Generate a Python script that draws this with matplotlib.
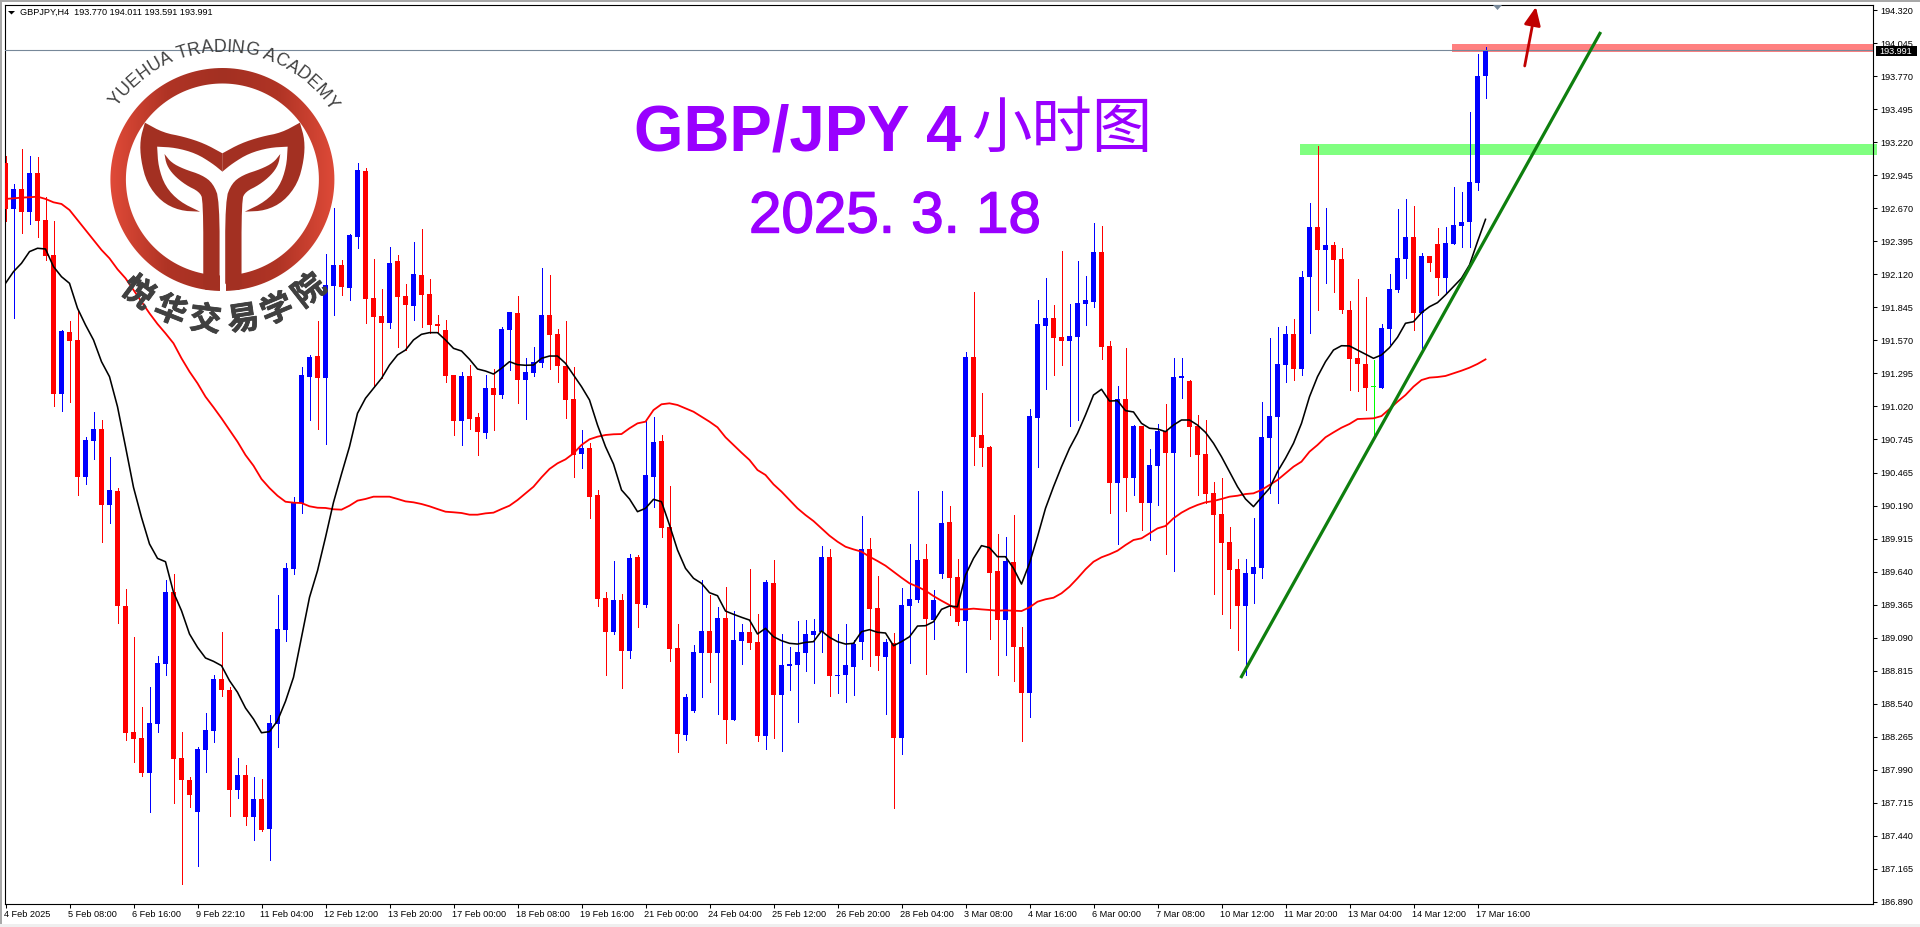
import numpy as np
import matplotlib
matplotlib.use("Agg")
import matplotlib.pyplot as plt
import matplotlib.patheffects as pe
from matplotlib.colors import LinearSegmentedColormap
from matplotlib.font_manager import FontProperties
from matplotlib.patches import PathPatch, Polygon, Rectangle
from matplotlib.path import Path
from matplotlib.textpath import text_to_path
from matplotlib.transforms import ScaledTranslation

# GBP/JPY H4 bars, oldest first
highs = [
    193.106, 192.870, 193.162, 193.106, 193.098, 192.767, 192.564, 191.656, 191.731, 191.823,
    190.762, 190.970, 190.906, 190.600, 190.339, 189.498, 189.098, 188.514, 188.681, 188.939,
    189.573, 189.623, 188.306, 187.931, 188.181, 188.464, 188.781, 189.139, 188.678, 188.089,
    188.031, 187.931, 187.914, 188.448, 189.448, 189.714, 190.262, 191.350, 191.448, 191.731,
    192.289, 192.673, 192.239, 192.456, 193.048, 193.006, 192.245, 191.998, 192.348, 192.281,
    192.039, 192.389, 192.498, 192.081, 191.781, 191.739, 191.281, 191.306, 191.364, 190.962,
    191.281, 191.331, 191.684, 191.806, 191.939, 191.420, 191.514, 192.173, 192.114, 191.664,
    191.731, 191.350, 190.823, 190.712, 190.323, 189.473, 189.731, 189.456, 189.789, 189.781,
    190.906, 190.928, 190.781, 190.356, 189.206, 188.623, 189.031, 189.573, 189.448, 189.350,
    189.517, 189.314, 189.206, 189.664, 189.287, 189.573, 189.739, 189.123, 189.012, 189.234,
    189.239, 189.245, 189.856, 189.828, 189.123, 189.206, 189.073, 190.106, 189.923, 189.606,
    189.078, 189.128, 189.506, 189.873, 190.314, 189.873, 189.489, 190.314, 190.189, 189.748,
    191.473, 191.973, 191.131, 190.689, 189.956, 189.931, 190.114, 189.181, 190.998, 191.906,
    192.089, 191.864, 192.314, 191.873, 192.231, 192.106, 192.548, 192.523, 191.564, 191.189,
    191.506, 190.864, 190.856, 190.664, 190.873, 191.039, 191.423, 191.423, 191.239, 190.948,
    190.906, 190.389, 190.423, 190.014, 189.748, 189.748, 190.092, 191.056, 191.589, 191.681,
    191.689, 191.748, 192.148, 192.714, 193.192, 192.673, 192.389, 192.339, 191.898, 192.081,
    191.934, 191.406, 191.706, 192.123, 192.664, 192.748, 192.689, 192.298, 192.273, 192.506,
    192.514, 192.848, 192.806, 193.473, 193.956, 194.011,
]
opens = [
    193.045, 192.664, 192.831, 192.639, 192.964, 192.573, 192.281, 191.123, 191.639, 191.573,
    190.434, 190.731, 190.831, 190.200, 190.312, 189.356, 188.306, 188.256, 187.964, 188.373,
    188.873, 189.473, 188.089, 187.906, 187.639, 188.156, 188.314, 188.748, 188.656, 187.823,
    187.948, 187.598, 187.748, 187.498, 188.373, 189.156, 189.664, 190.212, 191.264, 191.439,
    191.256, 192.023, 192.198, 192.006, 192.431, 192.981, 191.923, 191.773, 191.714, 192.231,
    191.939, 191.856, 192.114, 191.956, 191.706, 191.656, 191.281, 190.898, 191.273, 190.931,
    190.798, 191.173, 191.114, 191.656, 191.798, 191.239, 191.298, 191.381, 191.781, 191.623,
    191.356, 191.081, 190.623, 190.670, 190.281, 189.423, 189.139, 189.406, 188.981, 189.764,
    189.364, 190.431, 190.731, 190.014, 189.006, 188.281, 188.481, 188.967, 189.148, 188.967,
    189.256, 188.406, 189.064, 189.139, 189.056, 188.273, 189.548, 188.614, 188.856, 188.864,
    188.964, 189.114, 189.139, 189.764, 188.773, 188.781, 188.848, 189.056, 189.831, 189.339,
    188.931, 189.048, 188.259, 189.356, 189.406, 189.748, 189.239, 189.623, 190.056, 189.598,
    189.231, 191.431, 190.781, 190.681, 189.648, 189.239, 189.723, 189.014, 188.631, 190.923,
    191.689, 191.756, 191.598, 191.564, 191.598, 191.873, 191.889, 192.306, 191.523, 190.381,
    191.081, 190.423, 190.856, 190.214, 190.523, 190.814, 190.631, 191.256, 191.231, 190.856,
    190.623, 190.298, 190.123, 189.889, 189.664, 189.356, 189.623, 189.673, 190.756, 190.931,
    191.364, 191.623, 191.331, 192.098, 192.514, 192.323, 192.364, 192.248, 191.823, 191.423,
    191.373, 191.178, 191.173, 191.664, 191.989, 192.248, 192.431, 191.798, 192.273, 192.373,
    192.089, 192.373, 192.523, 192.556, 192.881, 193.770,
]
closes = [
    192.664, 192.831, 192.639, 192.964, 192.567, 192.275, 191.123, 191.648, 191.564, 190.434,
    190.739, 190.831, 190.200, 190.323, 189.359, 188.300, 188.250, 187.964, 188.381, 188.881,
    189.473, 188.081, 187.906, 187.781, 188.164, 188.323, 188.748, 188.656, 187.823, 187.948,
    187.598, 187.748, 187.489, 188.381, 189.164, 189.673, 190.212, 191.281, 191.431, 191.256,
    192.031, 192.198, 192.014, 192.448, 192.989, 191.914, 191.764, 191.714, 192.214, 191.931,
    191.864, 192.123, 191.948, 191.698, 191.689, 191.273, 190.898, 191.273, 190.914, 190.806,
    191.173, 191.114, 191.664, 191.806, 191.239, 191.306, 191.389, 191.781, 191.614, 191.356,
    191.073, 190.614, 190.670, 190.267, 189.417, 189.139, 189.406, 188.981, 189.756, 189.373,
    190.448, 190.723, 190.006, 188.998, 188.289, 188.598, 188.973, 189.148, 188.967, 189.256,
    188.406, 189.073, 189.139, 189.048, 188.273, 189.556, 188.614, 188.864, 188.873, 188.973,
    189.123, 189.148, 189.764, 188.773, 188.781, 188.864, 189.039, 189.831, 189.331, 188.939,
    189.056, 188.259, 189.364, 189.414, 189.739, 189.248, 189.406, 190.048, 189.589, 189.223,
    191.431, 190.764, 190.673, 189.631, 189.239, 189.731, 189.014, 188.631, 190.939, 191.706,
    191.756, 191.589, 191.564, 191.606, 191.881, 191.906, 192.306, 191.514, 190.381, 191.081,
    190.423, 190.856, 190.214, 190.531, 190.814, 190.631, 191.264, 191.273, 190.848, 190.614,
    190.289, 190.114, 189.881, 189.656, 189.356, 189.631, 189.681, 190.764, 190.939, 191.373,
    191.623, 191.331, 192.098, 192.514, 192.323, 192.364, 192.239, 191.823, 191.414, 191.373,
    191.173, 191.178, 191.673, 191.998, 192.256, 192.431, 191.798, 192.273, 192.214, 192.089,
    192.381, 192.531, 192.556, 192.889, 193.773, 193.991,
]
lows = [
    192.567, 191.759, 192.462, 192.542, 192.434, 192.239, 191.025, 190.984, 191.059, 190.281,
    190.373, 190.578, 189.889, 190.048, 189.214, 188.239, 188.059, 187.942, 187.642, 188.309,
    188.784, 187.714, 187.039, 187.684, 187.192, 187.973, 188.223, 188.606, 187.609, 187.756,
    187.531, 187.406, 187.481, 187.239, 188.181, 189.064, 189.623, 190.131, 190.906, 190.831,
    190.706, 191.781, 191.948, 191.906, 192.339, 191.714, 191.184, 191.253, 191.673, 191.514,
    191.489, 191.739, 191.681, 191.628, 191.628, 191.223, 190.781, 190.698, 190.831, 190.614,
    190.756, 190.823, 191.089, 191.323, 191.048, 190.914, 191.273, 191.348, 191.331, 191.223,
    190.923, 190.434, 190.506, 190.092, 189.356, 188.781, 189.123, 188.673, 188.923, 189.181,
    189.345, 190.184, 189.934, 188.898, 188.139, 188.239, 188.473, 188.598, 188.723, 188.456,
    188.214, 188.406, 188.873, 188.998, 188.231, 188.164, 188.256, 188.148, 188.656, 188.389,
    188.814, 188.714, 188.973, 188.606, 188.631, 188.556, 188.614, 188.914, 188.856, 188.823,
    188.456, 187.673, 188.123, 188.878, 189.392, 188.789, 189.081, 189.589, 189.281, 189.198,
    188.806, 190.531, 190.523, 189.081, 188.781, 188.948, 188.731, 188.231, 188.431, 190.514,
    191.164, 191.281, 191.364, 190.856, 190.906, 191.698, 191.848, 191.414, 190.131, 189.873,
    190.148, 190.281, 189.989, 189.906, 190.198, 189.789, 189.648, 191.089, 190.606, 190.281,
    190.214, 189.456, 189.289, 189.173, 188.989, 188.784, 189.381, 189.589, 190.298, 190.214,
    191.223, 191.239, 191.281, 191.631, 191.823, 192.048, 191.973, 191.798, 191.156, 191.148,
    190.989, 190.767, 191.173, 191.539, 191.973, 192.089, 191.656, 191.489, 192.148, 191.948,
    191.973, 192.373, 192.348, 192.348, 192.823, 193.591,
]
fast_ma = [
    192.045, 192.142, 192.212, 192.309, 192.337, 192.331, 192.184, 192.100, 192.045, 191.837,
    191.698, 191.573, 191.392, 191.267, 191.017, 190.684, 190.345, 190.095, 189.873, 189.753,
    189.725, 189.470, 189.317, 189.123, 189.012, 188.923, 188.895, 188.859, 188.734, 188.637,
    188.506, 188.414, 188.300, 188.309, 188.400, 188.562, 188.762, 189.095, 189.428, 189.650,
    189.928, 190.220, 190.456, 190.684, 190.962, 191.087, 191.170, 191.253, 191.364, 191.448,
    191.489, 191.573, 191.620, 191.634, 191.634, 191.573, 191.503, 191.481, 191.412, 191.331,
    191.314, 191.289, 191.337, 191.392, 191.367, 191.362, 191.364, 191.420, 191.439, 191.439,
    191.378, 191.281, 191.184, 191.073, 190.864, 190.684, 190.539, 190.323, 190.248, 190.142,
    190.170, 190.245, 190.225, 190.031, 189.823, 189.670, 189.587, 189.545, 189.467, 189.442,
    189.314, 189.287, 189.262, 189.239, 189.123, 189.170, 189.100, 189.067, 189.045, 189.039,
    189.053, 189.059, 189.148, 189.095, 189.059, 189.039, 189.045, 189.142, 189.159, 189.137,
    189.131, 189.025, 189.059, 189.100, 189.189, 189.192, 189.225, 189.328, 189.356, 189.350,
    189.614, 189.753, 189.859, 189.842, 189.767, 189.767, 189.670, 189.539, 189.712, 189.934,
    190.170, 190.350, 190.517, 190.670, 190.795, 190.948, 191.114, 191.162, 191.064, 191.067,
    190.984, 190.973, 190.878, 190.837, 190.831, 190.809, 190.864, 190.906, 190.906, 190.864,
    190.803, 190.712, 190.600, 190.475, 190.350, 190.248, 190.184, 190.262, 190.337, 190.475,
    190.587, 190.712, 190.878, 191.100, 191.267, 191.392, 191.489, 191.525, 191.523, 191.489,
    191.456, 191.420, 191.448, 191.509, 191.595, 191.712, 191.725, 191.800, 191.850, 191.884,
    191.948, 192.017, 192.087, 192.198, 192.392, 192.578,
]
slow_ma = [
    192.748, 192.753, 192.759, 192.762, 192.767, 192.748, 192.720, 192.706, 192.656, 192.573,
    192.489, 192.406, 192.323, 192.253, 192.162, 192.087, 191.989, 191.892, 191.795, 191.706,
    191.628, 191.545, 191.420, 191.309, 191.212, 191.100, 191.012, 190.920, 190.823, 190.725,
    190.614, 190.525, 190.414, 190.339, 190.275, 190.225, 190.217, 190.214, 190.187, 190.175,
    190.173, 190.162, 190.159, 190.192, 190.234, 190.248, 190.267, 190.267, 190.267, 190.248,
    190.228, 190.220, 190.206, 190.187, 190.164, 190.142, 190.137, 190.131, 190.117, 190.117,
    190.128, 190.134, 190.164, 190.192, 190.239, 190.295, 190.350, 190.428, 190.498, 190.545,
    190.578, 190.628, 190.698, 190.745, 190.767, 190.781, 190.787, 190.789, 190.837, 190.878,
    190.892, 190.989, 191.037, 191.045, 191.031, 191.003, 190.975, 190.934, 190.892, 190.845,
    190.762, 190.698, 190.634, 190.573, 190.489, 190.448, 190.370, 190.309, 190.239, 190.170,
    190.114, 190.064, 190.003, 189.942, 189.892, 189.850, 189.828, 189.809, 189.767, 189.731,
    189.692, 189.642, 189.592, 189.545, 189.517, 189.484, 189.439, 189.400, 189.364, 189.328,
    189.328, 189.334, 189.328, 189.323, 189.317, 189.320, 189.317, 189.314, 189.345, 189.392,
    189.412, 189.425, 189.462, 189.517, 189.587, 189.662, 189.725, 189.762, 189.787, 189.817,
    189.864, 189.906, 189.920, 189.962, 190.003, 190.023, 190.087, 190.134, 190.170, 190.198,
    190.220, 190.231, 190.248, 190.267, 190.275, 190.289, 190.295, 190.323, 190.364, 190.406,
    190.462, 190.517, 190.559, 190.642, 190.698, 190.762, 190.803, 190.842, 190.873, 190.914,
    190.917, 190.920, 190.939, 190.998, 191.059, 191.114, 191.184, 191.239, 191.259, 191.264,
    191.273, 191.295, 191.317, 191.342, 191.373, 191.411,
]

price_ticks = [
    194.320, 194.045, 193.770, 193.495, 193.220, 192.945, 192.670, 192.395, 192.120,
    191.845, 191.570, 191.295, 191.020, 190.745, 190.465, 190.190, 189.915, 189.640,
    189.365, 189.090, 188.815, 188.540, 188.265, 187.990, 187.715, 187.440, 187.165, 186.890,
]
time_labels = [
    "4 Feb 2025", "5 Feb 08:00", "6 Feb 16:00", "9 Feb 22:10", "11 Feb 04:00", "12 Feb 12:00",
    "13 Feb 20:00", "17 Feb 00:00", "18 Feb 08:00", "19 Feb 16:00", "21 Feb 00:00", "24 Feb 04:00",
    "25 Feb 12:00", "26 Feb 20:00", "28 Feb 04:00", "3 Mar 08:00", "4 Mar 16:00", "6 Mar 00:00",
    "7 Mar 08:00", "10 Mar 12:00", "11 Mar 20:00", "13 Mar 04:00", "14 Mar 12:00", "17 Mar 16:00",
]
bars_per_label = 8
last_price = 193.991
resistance_band = (193.973, 194.039)
breakout_band = (193.114, 193.206)
trend_start = (154.4, 188.756)
trend_end = (199.4, 194.139)
arrow_start = (189.9, 193.856)
arrow_end = (191.3, 194.348)

LABEL_FONT = "Liberation Sans"
PURPLE = "#9900FF"
LOGO_RED = "#A33022"
LOGO_GREY = "#404040"

fig = plt.figure(figsize=(19.2, 9.27), dpi=100, facecolor="white")
ax = fig.add_axes([4.5 / 1920, 23 / 927, 1868.5 / 1920, 899 / 927])
# one bar is exactly 8 px wide, so bodies land on whole pixels
x_left, x_right = -0.125, 233.4375
ax.set_xlim(x_left, x_right)
ax.set_ylim(186.873, 194.364)

x = np.arange(len(closes))
o = np.array(opens)
c = np.array(closes)
colors = np.where(c > o, "#0000FF", np.where(c < o, "#FF0000", "#00FF00"))

# bands sit behind the candles
span = x_right - x_left
ax.axhspan(*resistance_band, xmin=(180.75 - x_left) / span, xmax=1, color="#FF8080", lw=0, zorder=1)
ax.axhspan(*breakout_band, xmin=(161.75 - x_left) / span, xmax=1.002, color="#80FF80", lw=0, zorder=1,
           clip_on=False)

ax.vlines(x, lows, highs, colors=colors, lw=0.7, zorder=2, antialiased=False)
ax.bar(x, np.maximum(np.abs(c - o), 0.009), bottom=np.minimum(o, c), width=0.625, color=colors,
       lw=0, zorder=3, antialiased=False)

ax.plot(x, slow_ma, color="#FF0000", lw=1.3, zorder=4)
ax.plot(x, fast_ma, color="black", lw=1.15, zorder=4)
ax.axhline(last_price, color="#778899", lw=0.8, zorder=4)

ax.plot([trend_start[0], trend_end[0]], [trend_start[1], trend_end[1]], color="#0E7F0E", lw=2.3,
        zorder=5, solid_capstyle="butt")
ax.annotate("", xy=arrow_end, xytext=arrow_start, zorder=6,
            arrowprops=dict(arrowstyle="-|>,head_length=1.1,head_width=0.5", mutation_scale=10,
                            color="#C00000", lw=2, shrinkA=0, shrinkB=0))

ax.yaxis.tick_right()
ax.set_yticks(price_ticks)
ax.set_yticklabels([f"{p:.3f}" for p in price_ticks])
ax.set_xticks(x[::bars_per_label])
ax.set_xticklabels(time_labels, ha="left")
ax.tick_params(axis="both", length=3, width=0.75, labelsize=6.6, pad=2, colors="black")
ax.tick_params(axis="x", pad=1.5)
for label in ax.get_xticklabels() + ax.get_yticklabels():
    label.set_fontfamily(LABEL_FONT)
# time labels start about a pixel left of their tick
label_shift = ScaledTranslation(-1.2 / 100, 0, fig.dpi_scale_trans)
for label in ax.get_xticklabels():
    label.set_transform(label.get_transform() + label_shift)
for spine in ax.spines.values():
    spine.set_linewidth(0.8)
    spine.set_color("black")

# everything else is placed in image pixels on a transparent layer
ov = fig.add_axes([0, 0, 1, 1], zorder=5)
ov.patch.set_alpha(0)
ov.axis("off")

# window chrome
ov.add_patch(Rectangle((0, 0), 1920, 2, color="#A8A8A8", lw=0))
ov.add_patch(Rectangle((0, 0), 2, 927, color="#A8A8A8", lw=0))
ov.add_patch(Rectangle((0, 924), 1920, 3, color="#EFEFEF", lw=0))

ov.add_patch(Polygon([(8, 11), (15, 11), (11.5, 14.5)], color="black", lw=0))
ov.text(20, 12.5, "GBPJPY,H4  193.770 194.011 193.591 193.991", family=LABEL_FONT, fontsize=6.6, va="center")
ov.add_patch(Polygon([(1493, 5), (1502, 5), (1497.5, 10)], color="#778899", lw=0))

ov.add_patch(Rectangle((1875.5, 46), 41, 10, color="black", lw=0))
ov.text(1896, 51, f"{last_price:.3f}", family=LABEL_FONT, fontsize=6.6, color="white", ha="center", va="center")

# title
ov.text(634, 150, "GBP/JPY 4", family=LABEL_FONT, weight="bold", fontsize=45.8, color=PURPLE,
        va="baseline", ha="left")
ov.text(971, 130, "小时图", family="Noto Sans CJK SC", fontsize=43.5, color=PURPLE, va="center", ha="left")
ov.text(749, 232.5, "2025. 3. 18", family=LABEL_FONT, fontsize=42, color=PURPLE, va="baseline", ha="left",
        path_effects=[pe.withStroke(linewidth=1.0, foreground=PURPLE)])

# logo, traced in image pixels around its centre
cx, cy = 222.4, 179.5


def ellipse_points(rx, ry):
    t = np.linspace(0, 2 * np.pi, 181)
    return np.c_[cx + rx * np.cos(t), cy + ry * np.sin(t)]


def smooth_outline(points, rounds=2):
    # corner cutting; a vertex listed twice stays sharp
    pts = np.asarray(points, dtype=float)
    for _ in range(rounds):
        nxt = np.roll(pts, -1, axis=0)
        pts = np.c_[0.75 * pts + 0.25 * nxt, 0.25 * pts + 0.75 * nxt].reshape(-1, 2)
    return pts


outer = ellipse_points(112, 111.5)
inner = ellipse_points(96.5, 96)[::-1]
codes = [Path.MOVETO] + [Path.LINETO] * 180
ring = PathPatch(Path(np.r_[outer, inner], codes + codes), fc="none", ec="none")
ov.add_patch(ring)
ring_cmap = LinearSegmentedColormap.from_list("ring", ["#E04A38", "#B03425", LOGO_RED, "#B03425", "#DE4A38"])
img = ov.imshow(np.linspace(0, 1, 256)[None, :], extent=(110, 335, 292, 67), cmap=ring_cmap, aspect="auto")
img.set_clip_path(ring)
ov.add_patch(Rectangle((219.6, 255), 6.1, 40, color="white", lw=0))

crown = [(355, 368), (355, 368), (400, 398), (450, 410), (500, 430), (545, 460), (545, 460), (545, 515),
         (545, 515), (520, 490), (480, 460), (430, 443), (385, 440), (385, 440), (388, 500), (405, 560),
         (440, 605), (490, 635), (490, 635), (440, 632), (395, 605), (360, 550), (345, 480), (343, 420)]
stem = [(403, 462), (403, 462), (420, 488), (450, 507), (495, 525), (522, 550), (538, 600), (538, 850),
        (538, 850), (530, 862), (505, 873), (498, 860), (498, 860), (498, 600), (488, 575), (455, 555),
        (425, 525), (408, 495)]
for shape in (crown, stem):
    pts = smooth_outline(shape) / [2.45, 3.0]
    mirrored = pts.copy()
    mirrored[:, 0] = 2 * cx - pts[:, 0]
    ov.add_patch(Polygon(pts, color=LOGO_RED, lw=0))
    ov.add_patch(Polygon(mirrored, color=LOGO_RED, lw=0))

# curved English name, letters spaced by their own width
en_name = "YUEHUA TRADING ACADEMY"
en_size = 12.8
en_radius = 128
fp = FontProperties(family=LABEL_FONT, size=en_size)
widths = [text_to_path.get_text_width_height_descent(ch, fp, False)[0] * 100 / 72 for ch in en_name]
angle = np.radians(1.0) - sum(widths) / en_radius / 2
for ch, w in zip(en_name, widths):
    mid = angle + w / en_radius / 2
    ov.text(cx + en_radius * np.sin(mid), cy - en_radius * np.cos(mid), ch, family=LABEL_FONT, fontsize=en_size,
            color=LOGO_GREY, ha="center", va="baseline", rotation=-np.degrees(mid), rotation_mode="anchor")
    angle += w / en_radius

# curved Chinese name under the ring
cn_name = "悦华交易学院"
cn_angles = [-36.7, -21.6, -6.9, 8.5, 22.8, 38]
for ch, deg in zip(cn_name, cn_angles):
    rad = np.radians(deg)
    ov.text(cx + 142 * np.sin(rad), cy + 142 * np.cos(rad), ch, family="Noto Sans CJK SC", weight="bold",
            fontsize=23, color=LOGO_GREY, ha="center", va="center", rotation=deg, rotation_mode="anchor",
            path_effects=[pe.withStroke(linewidth=0.6, foreground=LOGO_GREY)])

ov.set_xlim(0, 1920)
ov.set_ylim(927, 0)

fig.savefig("out.png", dpi=100)
